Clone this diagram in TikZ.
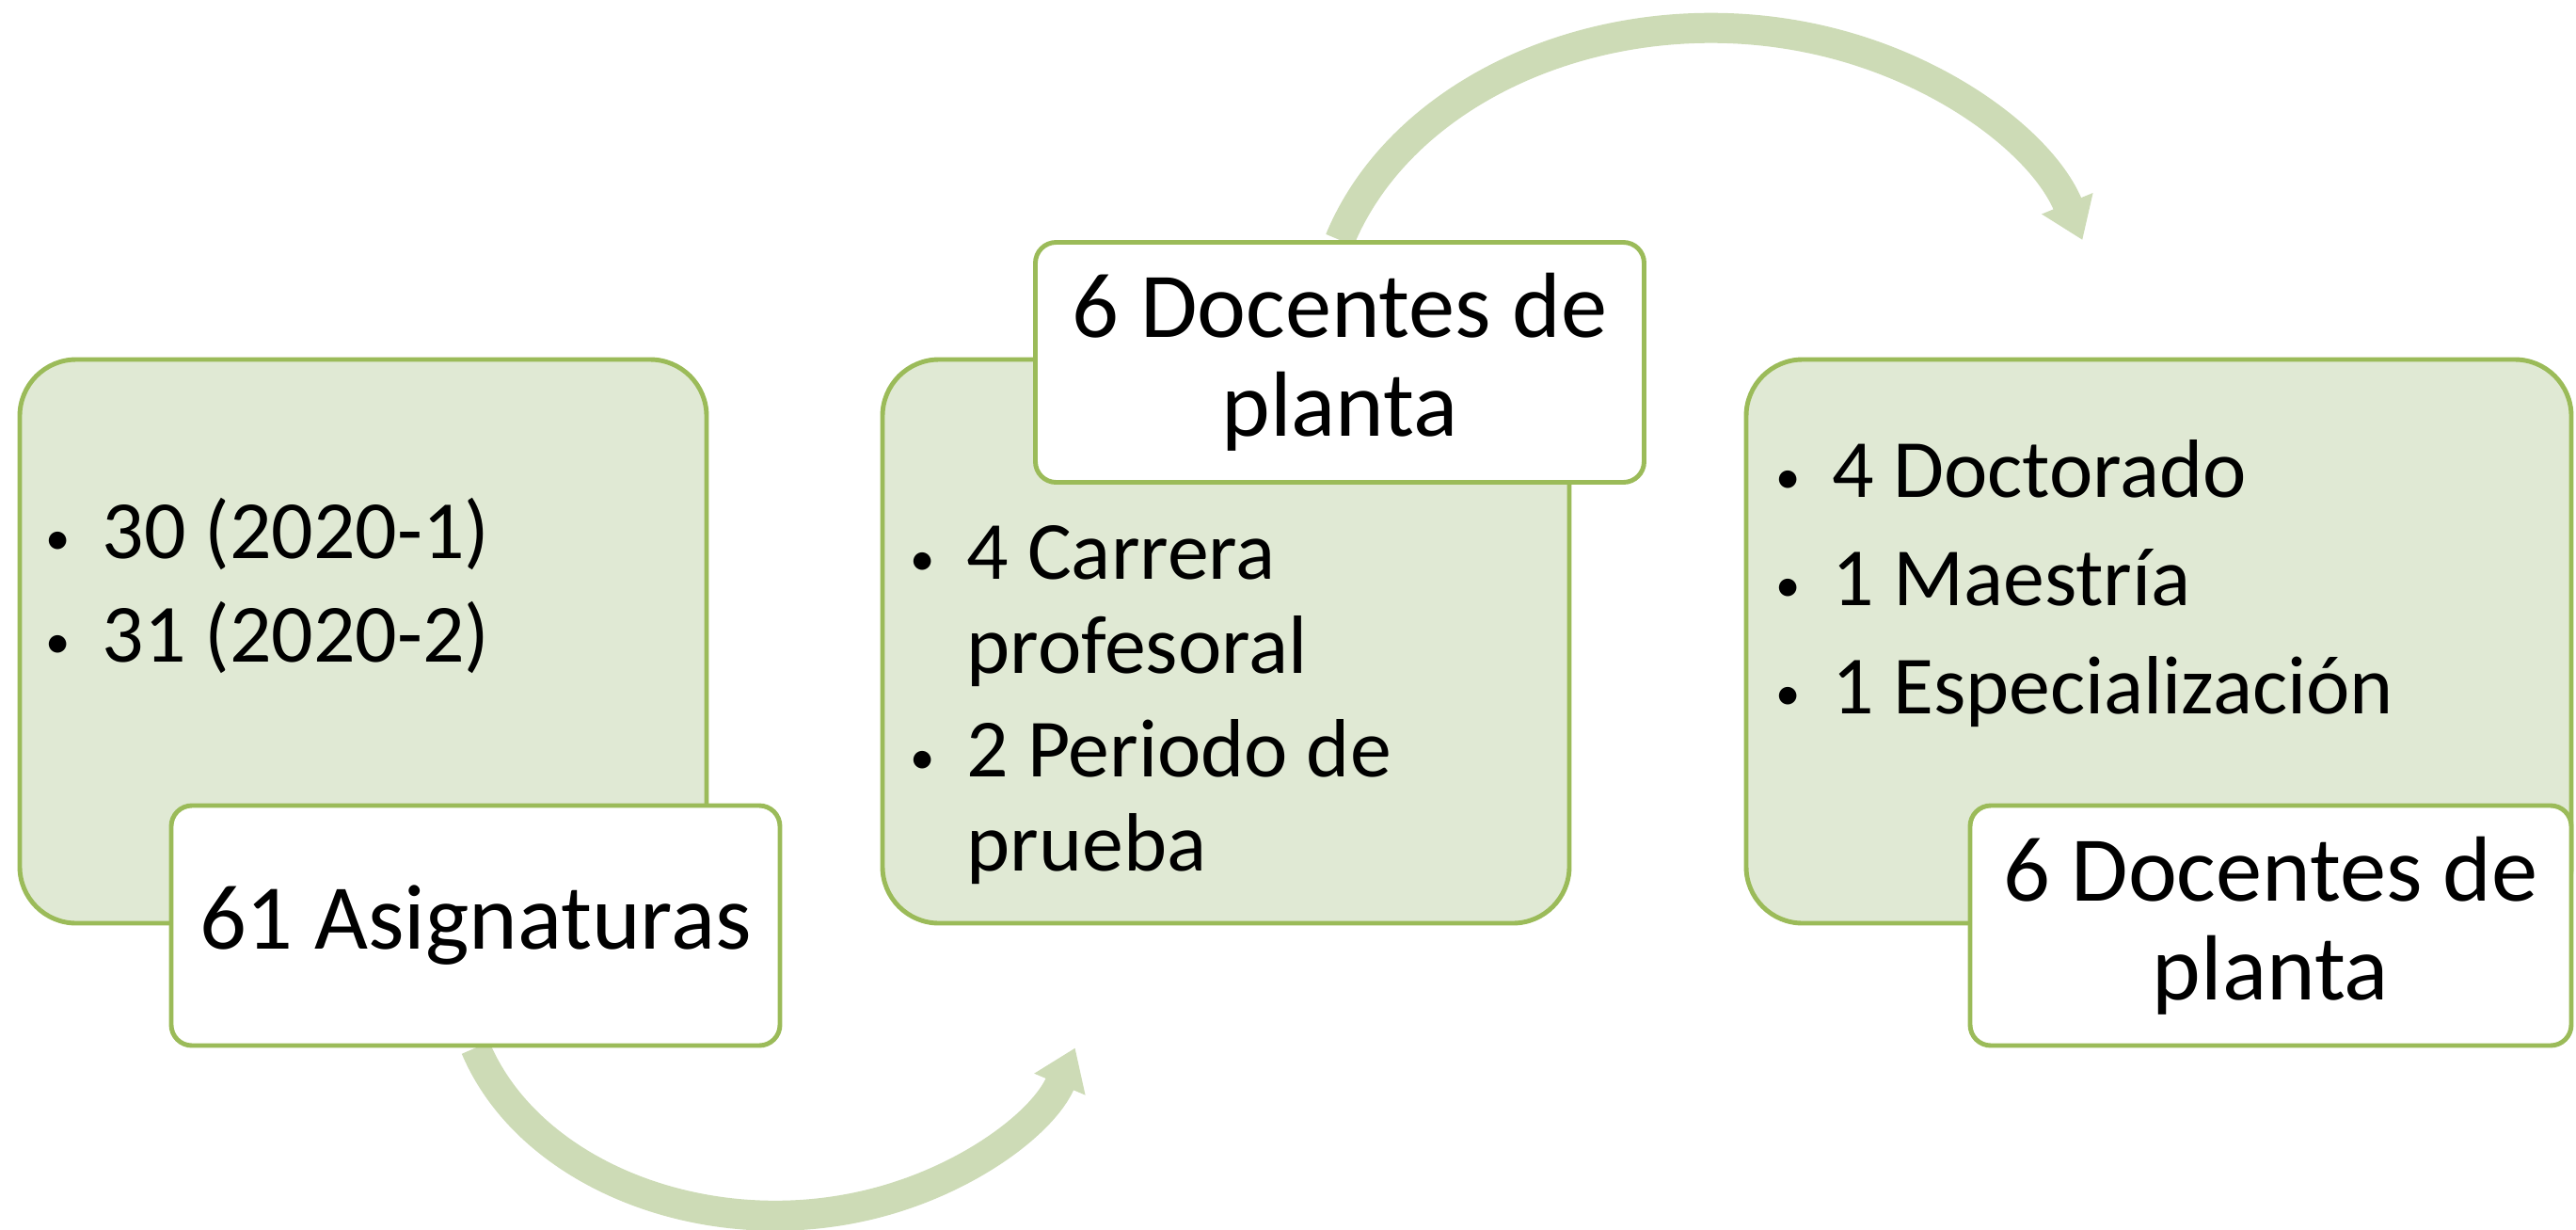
\documentclass[tikz,border=0pt]{standalone}
\usepackage{fontspec}
\setmainfont{Carlito}
\usetikzlibrary{arrows.meta,backgrounds}

\definecolor{leafline}{HTML}{9BBB59}
\definecolor{leaffill}{HTML}{E0E9D4}
\definecolor{leafarrow}{HTML}{CDDBB6}
\newcommand{\itm}{\llap{\raisebox{1pt}{\fontsize{15}{15}\selectfont\textbullet}\hspace{0.34cm}}}

\begin{document}
\begin{tikzpicture}[
    panel/.style={draw=leafline,fill=leaffill,line width=1.4pt,
      rounded corners=0.6cm,minimum height=5.99cm},
    tag/.style={draw=leafline,fill=white,line width=1.4pt,
      rounded corners=0.22cm,minimum width=6.47cm,minimum height=2.55cm,
      align=center,font=\fontsize{28}{30}\selectfont},
    items/.style={anchor=west,inner sep=0pt,align=left,
      font=\fontsize{25}{28.5}\selectfont},
    flow/.style={draw=leafarrow,line width=0.32cm,
      -{Triangle[width=0.56cm,length=0.42cm]}}
  ]
  \useasboundingbox (0,0) rectangle (27.38,-13.07);

  \node[panel,minimum width=7.30cm] (P1) at (3.86,-6.815) {};
  \node[panel,minimum width=7.30cm] (P2) at (13.03,-6.815) {};
  \node[panel,minimum width=8.77cm] (P3) at (22.945,-6.815) {};

  \node[tag] (T1) at (5.055,-9.835) {61 Asignaturas};
  \node[tag] (T2) at (14.24,-3.85) {6 Docentes de\\planta};
  \node[tag,minimum width=6.39cm] (T3) at (24.135,-9.835) {6 Docentes de\\planta};

  \node[items] (L1) at (1.08,-6.22)
    {\itm 30 (2020-1)\\[2.8pt]\itm 31 (2020-2)};
  \node[items] (L2) at (10.27,-7.49)
    {\itm 4 Carrera\\profesoral\\[2.9pt]\itm 2 Periodo de\\prueba};
  \node[items] (L3) at (19.47,-6.20)
    {\itm 4 Doctorado\\[4.2pt]\itm 1 Maestría\\[4.2pt]\itm 1 Especialización};

  \begin{scope}[on background layer]
    \draw[flow] (T1.south) arc[start angle=198,end angle=342,
      x radius=3.35cm,y radius=2.58cm] coordinate (E1);
    \draw[flow] (T2.north) arc[start angle=162,end angle=18,
      x radius=4.15cm,y radius=3.26cm] coordinate (E2);
  \end{scope}
\end{tikzpicture}
\end{document}
